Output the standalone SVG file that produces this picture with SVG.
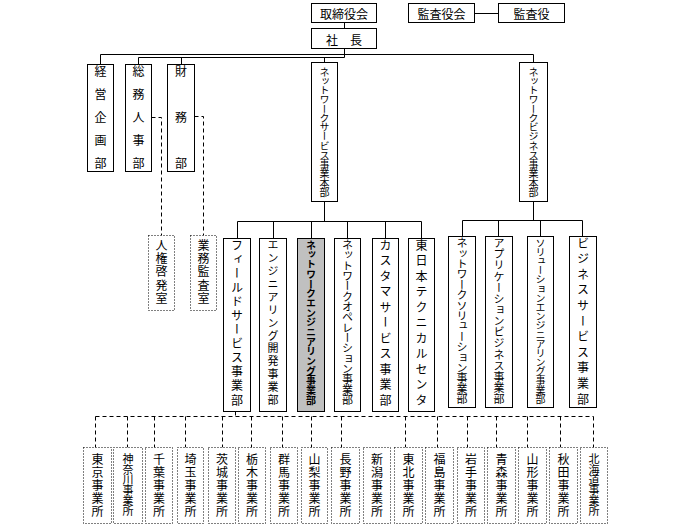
<svg xmlns="http://www.w3.org/2000/svg" width="699" height="527" viewBox="0 0 699 527">
<style>
.b{fill:#fff;stroke:#000;stroke-width:1}
.g{fill:#c0c0c0;stroke:#000;stroke-width:1}
.d{fill:#fff;stroke:#000;stroke-width:1;stroke-dasharray:1 2}
.c{fill:none;stroke:#000;stroke-width:1}
.dc{fill:none;stroke:#000;stroke-width:1;stroke-dasharray:4 3}
text{font-family:"Noto Sans CJK JP","Noto Sans CJK SC",sans-serif;fill:#000}
.h{font-size:12px;text-anchor:middle;dominant-baseline:central}
.v{writing-mode:vertical-rl;text-anchor:middle;font-size:12px}
.s{font-size:11px}
.t{font-size:10px}
.bold{font-weight:bold}
</style>
<rect width="699" height="527" fill="#fff"/>
<g id="connectors">
<path class="c" d="M344.5 22.5V28.5M474.5 13.5H498.5M344.5 48.5V57.5M100.5 54.5H533.5M138.5 57.5H344.5M100.5 54.5V64.5M138.5 57.5V64.5M181.5 57.5V64.5M324.5 57.5V62.5M533.5 54.5V62.5"/>
<path class="c" d="M324.5 201.5V221.5M237.5 221.5H421.5M237.5 221.5V238.5M273.5 221.5V238.5M311.5 221.5V238.5M347.5 221.5V238.5M385.5 221.5V238.5M421.5 221.5V238.5"/>
<path class="c" d="M533.5 201.5V220.5M462.5 220.5H582.5M462.5 220.5V236.5M498.5 220.5V236.5M540.5 220.5V236.5M582.5 220.5V236.5"/>
<path class="dc" d="M151.5 117.5H161.5V235.5M194.5 116.5H203.5V235.5"/>
<path class="dc" d="M235.5 411.5V416.5M95.5 416.5H593.5M95.5 416.5V447.5M127.5 416.5V447.5M154.5 416.5V447.5M185.5 416.5V447.5M222.5 416.5V447.5M251.5 416.5V447.5M282.5 416.5V447.5M311.5 416.5V447.5M341.5 416.5V447.5M405.5 416.5V447.5M437.5 416.5V447.5M467.5 416.5V447.5M496.5 416.5V447.5M527.5 416.5V447.5M560.5 416.5V447.5M593.5 416.5V447.5"/>
</g>
<g id="board"><rect class="b" x="311.5" y="3.5" width="65" height="19"/><text class="h" x="344" y="13">取締役会</text></g>
<g id="auditboard"><rect class="b" x="408.5" y="3.5" width="66" height="19"/><text class="h" x="441.5" y="13">監査役会</text></g>
<g id="auditor"><rect class="b" x="498.5" y="3.5" width="66" height="19"/><text class="h" x="531.5" y="13">監査役</text></g>
<g id="president"><rect class="b" x="311.5" y="28.5" width="65" height="20"/><text class="h" x="344" y="39">社　長</text></g>
<g id="keiei"><rect class="b" x="87.5" y="64.5" width="26" height="107"/><text class="v" x="100.5" y="71 94 117 140 163">経営企画部</text></g>
<g id="somu"><rect class="b" x="125.5" y="64.5" width="26" height="107"/><text class="v" x="138.5" y="71 94 117 140 163">総務人事部</text></g>
<g id="zaimu"><rect class="b" x="167.5" y="64.5" width="27" height="107"/><text class="v" x="181" y="71 117 163">財務部</text></g>
<g id="jinken"><rect class="d" x="148.5" y="235.5" width="26" height="75"/><text class="v" x="161.5" y="245 258 271.5 285 298">人権啓発室</text></g>
<g id="gyomu"><rect class="d" x="190.5" y="235.5" width="26" height="75"/><text class="v" x="203.5" y="245 258 271.5 285 298">業務監査室</text></g>
<g id="nwservice"><rect class="b" x="311.5" y="62.5" width="26" height="139"/><text class="v t" x="324.5" y="72 81.2 90.5 99.7 108.9 118.2 127.4 136.6 145.8 155.1 164.3 173.5 182.8 192">ネットワークサービス事業本部</text></g>
<g id="nwbusiness"><rect class="b" x="519.5" y="62.5" width="28" height="139"/><text class="v t" x="533.5" y="72 81.2 90.5 99.7 108.9 118.2 127.4 136.6 145.8 155.1 164.3 173.5 182.8 192">ネットワークビジネス事業本部</text></g>
<g id="field"><rect class="b" x="223.5" y="238.5" width="27" height="173"/><text class="v" x="237" y="245 259.1 273.2 287.3 301.4 315.5 329.5 343.6 357.7 371.8 385.9 400">フィールドサービス事業部</text></g>
<g id="engdev"><rect class="b" x="259.5" y="238.5" width="27" height="173"/><text class="v s" x="273" y="245 257.9 270.8 283.8 296.7 309.6 322.5 335.4 348.3 361.3 374.2 387.1 400">エンジニアリング開発事業部</text></g>
<g id="nweng"><rect class="g" x="297.5" y="238.5" width="27" height="173"/><text class="v t bold" x="311" y="245 254.7 264.4 274.1 283.8 293.4 303.1 312.8 322.5 332.2 341.9 351.6 361.3 370.9 380.6 390.3 400">ネットワークエンジニアリング事業部</text></g>
<g id="nwops"><rect class="b" x="334.5" y="238.5" width="26" height="173"/><text class="v s" x="347.5" y="245 255.3 265.7 276 286.3 296.7 307 317.3 327.7 338 348.3 358.7 369 379.3 389.7 400">ネットワークオペレーション事業部</text></g>
<g id="customer"><rect class="b" x="372.5" y="238.5" width="26" height="173"/><text class="v" x="385.5" y="245 260.5 276 291.5 307 322.5 338 353.5 369 384.5 400">カスタマサービス事業部</text></g>
<g id="techcenter"><rect class="b" x="408.5" y="238.5" width="26" height="173"/><text class="v" x="421.5" y="245 260.5 276 291.5 307 322.5 338 353.5 369 384.5 400">東日本テクニカルセンタ</text></g>
<g id="nwsolution"><rect class="b" x="448.5" y="236.5" width="27" height="171"/><text class="v s" x="462" y="243 253.4 263.8 274.2 284.6 295 305.4 315.8 326.2 336.6 347 357.4 367.8 378.2 388.6 399">ネットワークソリューション事業部</text></g>
<g id="appbiz"><rect class="b" x="485.5" y="236.5" width="27" height="171"/><text class="v s" x="499" y="243 254.1 265.3 276.4 287.6 298.7 309.9 321 332.1 343.3 354.4 365.6 376.7 387.9 399">アプリケーションビジネス事業部</text></g>
<g id="soleng"><rect class="b" x="527.5" y="236.5" width="26" height="171"/><text class="v t" x="540.5" y="243 252.2 261.4 270.5 279.7 288.9 298.1 307.2 316.4 325.6 334.8 343.9 353.1 362.3 371.5 380.6 389.8 399">ソリューションエンジニアリング事業部</text></g>
<g id="bizservice"><rect class="b" x="569.5" y="236.5" width="27" height="171"/><text class="v" x="583" y="243 258.6 274.2 289.8 305.4 321 336.6 352.2 367.8 383.4 399">ビジネスサービス事業部</text></g>
<g id="tokyo"><rect class="d" x="83.5" y="447.5" width="28" height="76"/><text class="v" x="97.5" y="459 472 485 498 511">東京事業所</text></g>
<g id="kanagawa"><rect class="d" x="113.5" y="447.5" width="29" height="76"/><text class="v s" x="128" y="459 469.4 479.8 490.2 500.6 511">神奈川事業所</text></g>
<g id="chiba"><rect class="d" x="145.5" y="447.5" width="27" height="76"/><text class="v" x="159" y="459 472 485 498 511">千葉事業所</text></g>
<g id="saitama"><rect class="d" x="177.5" y="447.5" width="26" height="76"/><text class="v" x="190.5" y="459 472 485 498 511">埼玉事業所</text></g>
<g id="ibaraki"><rect class="d" x="208.5" y="447.5" width="27" height="76"/><text class="v" x="222" y="459 472 485 498 511">茨城事業所</text></g>
<g id="tochigi"><rect class="d" x="238.5" y="447.5" width="27" height="76"/><text class="v" x="252" y="459 472 485 498 511">栃木事業所</text></g>
<g id="gunma"><rect class="d" x="270.5" y="447.5" width="27" height="76"/><text class="v" x="284" y="459 472 485 498 511">群馬事業所</text></g>
<g id="yamanashi"><rect class="d" x="301.5" y="447.5" width="26" height="76"/><text class="v" x="314.5" y="459 472 485 498 511">山梨事業所</text></g>
<g id="nagano"><rect class="d" x="331.5" y="447.5" width="28" height="76"/><text class="v" x="345.5" y="459 472 485 498 511">長野事業所</text></g>
<g id="niigata"><rect class="d" x="363.5" y="447.5" width="27" height="76"/><text class="v" x="377" y="459 472 485 498 511">新潟事業所</text></g>
<g id="tohoku"><rect class="d" x="394.5" y="447.5" width="28" height="76"/><text class="v" x="408.5" y="459 472 485 498 511">東北事業所</text></g>
<g id="fukushima"><rect class="d" x="425.5" y="447.5" width="28" height="76"/><text class="v" x="439.5" y="459 472 485 498 511">福島事業所</text></g>
<g id="iwate"><rect class="d" x="457.5" y="447.5" width="27" height="76"/><text class="v" x="471" y="459 472 485 498 511">岩手事業所</text></g>
<g id="aomori"><rect class="d" x="487.5" y="447.5" width="28" height="76"/><text class="v" x="501.5" y="459 472 485 498 511">青森事業所</text></g>
<g id="yamagata"><rect class="d" x="518.5" y="447.5" width="28" height="76"/><text class="v" x="532.5" y="459 472 485 498 511">山形事業所</text></g>
<g id="akita"><rect class="d" x="549.5" y="447.5" width="28" height="76"/><text class="v" x="563.5" y="459 472 485 498 511">秋田事業所</text></g>
<g id="hokkaido"><rect class="d" x="580.5" y="447.5" width="27" height="76"/><text class="v s" x="594" y="459 469.4 479.8 490.2 500.6 511">北海道事業所</text></g>
</svg>
